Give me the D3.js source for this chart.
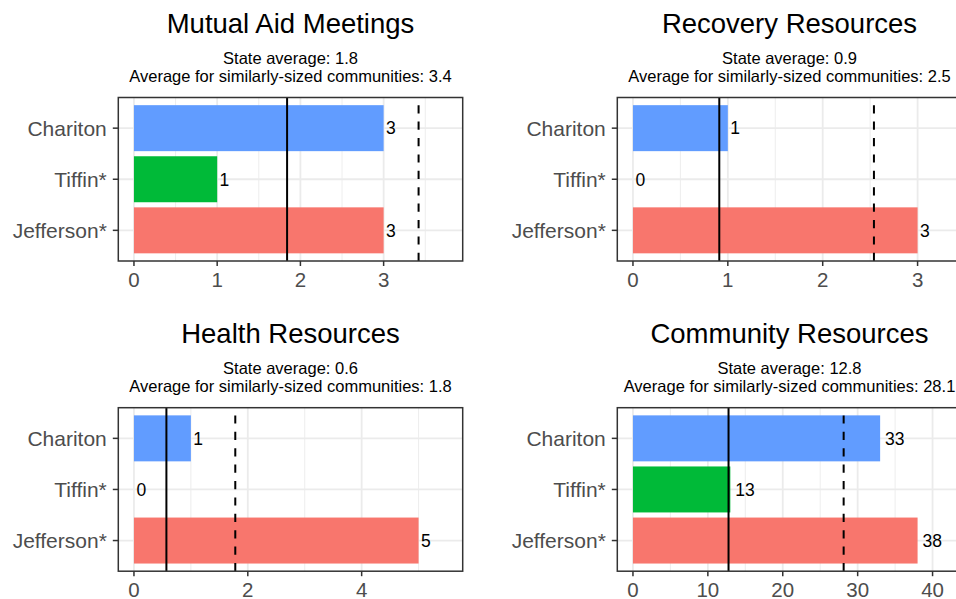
<!DOCTYPE html>
<html>
<head>
<meta charset="utf-8">
<script src="https://cdn.jsdelivr.net/npm/d3@7"></script>
<style>
  body { margin: 0; background: #fff; }
  svg { display: block; font-family: "Liberation Sans", Arial, sans-serif; }
</style>
</head>
<body>
<svg id="chart" width="956" height="599"></svg>
<script>
// Daten
const categories = ["Chariton", "Tiffin*", "Jefferson*"];
const barColors = ["#619CFF", "#00BA38", "#F8766D"];
const panelTitles = ["Mutual Aid Meetings", "Recovery Resources", "Health Resources", "Community Resources"];
const mutualAid = [3, 1, 3];
const recovery = [1, 0, 3];
const health = [1, 0, 5];
const community = [33, 13, 38];
const panelValues = [mutualAid, recovery, health, community];
const stateAverage = [1.84, 0.91, 0.57, 12.76];
const similarAverage = [3.42, 2.54, 1.78, 28.13];
const tickValues = [[0, 1, 2, 3], [0, 1, 2, 3], [0, 2, 4], [0, 10, 20, 30, 40]];

// Layout
const panelLeft = [118.3, 617.3];
const panelTop = [97.5, 407.7];
const panelW = 344.4, panelH = 163.5;

const svg = d3.select("#chart");

panelTitles.forEach((title, i) => {
    const col = i % 2, row = Math.floor(i / 2);
    const x0 = panelLeft[col], y0 = panelTop[row];
    const vals = panelValues[i];

    const xmax = d3.max([...vals, stateAverage[i], similarAverage[i]]) * 1.1;
    const pad = xmax * 0.05;
    const x = d3.scaleLinear().domain([-pad, xmax + pad]).range([0, panelW]);
    const y = d3.scaleBand().domain(categories).range([0, panelH])
        .paddingInner(0.1).paddingOuter(0.15);

    const ticks = tickValues[i];
    const step = ticks[1] - ticks[0];
    const minor = ticks.map(t => t + step / 2).filter(t => t < xmax + pad);

    const g = svg.append("g").attr("transform", `translate(${x0},${y0})`);

    // Titel + Untertitel
    const cx = panelW / 2;
    g.append("text").attr("x", cx).attr("y", -64.5)
        .attr("text-anchor", "middle").attr("font-size", "27.5px").attr("fill", "#000")
        .text(title);
    g.append("text").attr("x", cx).attr("y", -33.5)
        .attr("text-anchor", "middle").attr("font-size", "16.5px").attr("fill", "#000")
        .text(`State average: ${stateAverage[i].toFixed(1)}`);
    g.append("text").attr("x", cx).attr("y", -15.5)
        .attr("text-anchor", "middle").attr("font-size", "16.5px").attr("fill", "#000")
        .text(`Average for similarly-sized communities: ${similarAverage[i].toFixed(1)}`);

    // Gitter
    g.selectAll(".minor").data(minor).join("line")
        .attr("x1", d => x(d)).attr("x2", d => x(d))
        .attr("y1", 0).attr("y2", panelH)
        .attr("stroke", "#EBEBEB").attr("stroke-width", 0.9);
    g.selectAll(".majx").data(ticks).join("line")
        .attr("x1", d => x(d)).attr("x2", d => x(d))
        .attr("y1", 0).attr("y2", panelH)
        .attr("stroke", "#EBEBEB").attr("stroke-width", 1.8);
    g.selectAll(".majy").data(categories).join("line")
        .attr("x1", 0).attr("x2", panelW)
        .attr("y1", d => y(d) + y.bandwidth() / 2).attr("y2", d => y(d) + y.bandwidth() / 2)
        .attr("stroke", "#EBEBEB").attr("stroke-width", 1.8);

    // Balken
    g.selectAll(".bar").data(vals).join("rect")
        .attr("x", x(0))
        .attr("y", (d, j) => y(categories[j]))
        .attr("width", d => x(d) - x(0))
        .attr("height", y.bandwidth())
        .attr("fill", (d, j) => barColors[j]);

    // Durchschnittslinien (von unten nach oben, damit das Strichmuster unten beginnt)
    g.append("line")
        .attr("x1", x(stateAverage[i])).attr("x2", x(stateAverage[i]))
        .attr("y1", panelH).attr("y2", 0)
        .attr("stroke", "#000").attr("stroke-width", 2);
    g.append("line")
        .attr("x1", x(similarAverage[i])).attr("x2", x(similarAverage[i]))
        .attr("y1", panelH).attr("y2", 0)
        .attr("stroke", "#000").attr("stroke-width", 2)
        .attr("stroke-dasharray", "8.2,8.2");

    // Werte
    g.selectAll(".val").data(vals).join("text")
        .attr("y", (d, j) => y(categories[j]) + y.bandwidth() / 2)
        .attr("dy", "0.36em")
        .attr("font-size", "17.5px").attr("fill", "#000")
        .text(d => d)
        .attr("x", function (d) { return x(d) + 0.25 * this.getComputedTextLength(); });

    // Rahmen
    g.append("rect").attr("width", panelW).attr("height", panelH)
        .attr("fill", "none").attr("stroke", "#333333").attr("stroke-width", 1.5);

    // Y-Achse
    g.selectAll(".yt").data(categories).join("line")
        .attr("x1", -5.5).attr("x2", 0)
        .attr("y1", d => y(d) + y.bandwidth() / 2).attr("y2", d => y(d) + y.bandwidth() / 2)
        .attr("stroke", "#333333").attr("stroke-width", 1.5);
    g.selectAll(".yl").data(categories).join("text")
        .attr("x", -11.5)
        .attr("y", d => y(d) + y.bandwidth() / 2)
        .attr("dy", "0.36em")
        .attr("text-anchor", "end").attr("font-size", "21px").attr("fill", "#4D4D4D")
        .text(d => d);

    // X-Achse
    g.selectAll(".xt").data(ticks).join("line")
        .attr("x1", d => x(d)).attr("x2", d => x(d))
        .attr("y1", panelH).attr("y2", panelH + 5)
        .attr("stroke", "#333333").attr("stroke-width", 1.5);
    g.selectAll(".xl").data(ticks).join("text")
        .attr("x", d => x(d))
        .attr("y", panelH + 26.3)
        .attr("text-anchor", "middle").attr("font-size", "20.5px").attr("fill", "#4D4D4D")
        .text(d => d);
});
</script>
</body>
</html>
